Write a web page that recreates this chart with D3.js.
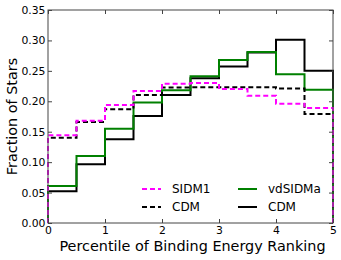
<!DOCTYPE html>
<html><head><meta charset="utf-8">
<script src="https://cdn.jsdelivr.net/npm/d3@7"></script>
<style>body{margin:0;background:#fff}svg{display:block}text{font-family:"DejaVu Sans",sans-serif}</style>
</head><body>
<svg id="c" width="341" height="260"></svg>
<script>
const binEdges = [0,0.5,1,1.5,2,2.5,3,3.5,4,4.5,5];
const sidm1 =   [0.144,0.168,0.194,0.217,0.229,0.230,0.220,0.209,0.196,0.189];
const cdmDash = [0.140,0.166,0.187,0.2105,0.2225,0.223,0.223,0.223,0.221,0.179];
const vdsidma = [0.061,0.110,0.155,0.198,0.218,0.241,0.268,0.281,0.2445,0.219];
const cdmSolid =[0.052,0.0965,0.1376,0.176,0.2105,0.238,0.257,0.280,0.301,0.250];
const xTicks = [0,1,2,3,4,5];
const yTicks = [0,0.05,0.10,0.15,0.20,0.25,0.30,0.35];

const svg = d3.select("#c");
const L=48,R=333,T=10,B=223;
const x = d3.scaleLinear().domain([0,5]).range([L,R]);
const y = d3.scaleLinear().domain([0,0.35]).range([B,T]);

function stepPath(vals){
  const p = d3.path();
  p.moveTo(x(binEdges[0]), y(0));
  vals.forEach((v,i)=>{ p.lineTo(x(binEdges[i]), y(v)); p.lineTo(x(binEdges[i+1]), y(v)); });
  p.lineTo(x(binEdges[binEdges.length-1]), y(0));
  return p.toString();
}
const g = svg.append("g");
const series = [
  {v:cdmSolid,c:"#000",d:null},
  {v:vdsidma,c:"#008000",d:null},
  {v:cdmDash,c:"#000",d:"5,3"},
  {v:sidm1,c:"#ff00ff",d:"5,3"}
];
series.forEach(s=>{
  g.append("path").attr("d",stepPath(s.v)).attr("fill","none").attr("stroke",s.c)
   .attr("stroke-width",2).attr("stroke-dasharray",s.d);
});

// frame
svg.append("rect").attr("x",L).attr("y",T).attr("width",R-L).attr("height",B-T)
  .attr("fill","none").attr("stroke","#444").attr("stroke-width",1);

// axes
const ax = svg.append("g").attr("transform",`translate(0,${B})`)
  .call(d3.axisBottom(x).tickValues(xTicks).tickFormat(d3.format("d")).tickSizeInner(-4).tickSizeOuter(0).tickPadding(3));
const axT = svg.append("g").attr("transform",`translate(0,${T})`)
  .call(d3.axisTop(x).tickValues(xTicks).tickFormat("").tickSizeInner(-4).tickSizeOuter(0));
const ay = svg.append("g").attr("transform",`translate(${L},0)`)
  .call(d3.axisLeft(y).tickValues(yTicks).tickFormat(d3.format(".2f")).tickSizeInner(-4).tickSizeOuter(0).tickPadding(2.5));
const ayR = svg.append("g").attr("transform",`translate(${R},0)`)
  .call(d3.axisRight(y).tickValues(yTicks).tickFormat("").tickSizeInner(-4).tickSizeOuter(0));
[ax,axT,ay,ayR].forEach(a=>{a.select(".domain").remove(); a.selectAll("line").attr("stroke","#444");
  a.selectAll("text").attr("font-size",10.8).attr("fill","#000").style("font-family","DejaVu Sans");});

svg.append("text").attr("x",192.5).attr("y",251).attr("text-anchor","middle")
  .attr("font-size",14.4).text("Percentile of Binding Energy Ranking");
svg.append("text").attr("transform",`translate(17,${(T+B)/2}) rotate(-90)`).attr("text-anchor","middle")
  .attr("font-size",14.4).text("Fraction of Stars");

// legend
const leg = [
  {n:"SIDM1",c:"#ff00ff",d:"5,3",lx:142,ly:189},
  {n:"CDM",c:"#000",d:"5,3",lx:142,ly:207},
  {n:"vdSIDMa",c:"#008000",d:null,lx:238,ly:189},
  {n:"CDM",c:"#000",d:null,lx:238,ly:207}
];
leg.forEach(l=>{
  svg.append("line").attr("x1",l.lx).attr("x2",l.lx+19).attr("y1",l.ly).attr("y2",l.ly)
    .attr("stroke",l.c).attr("stroke-width",2).attr("stroke-dasharray",l.d);
  svg.append("text").attr("x",l.lx+30).attr("y",l.ly+4.4).attr("font-size",12).text(l.n);
});
</script>
</body></html>
